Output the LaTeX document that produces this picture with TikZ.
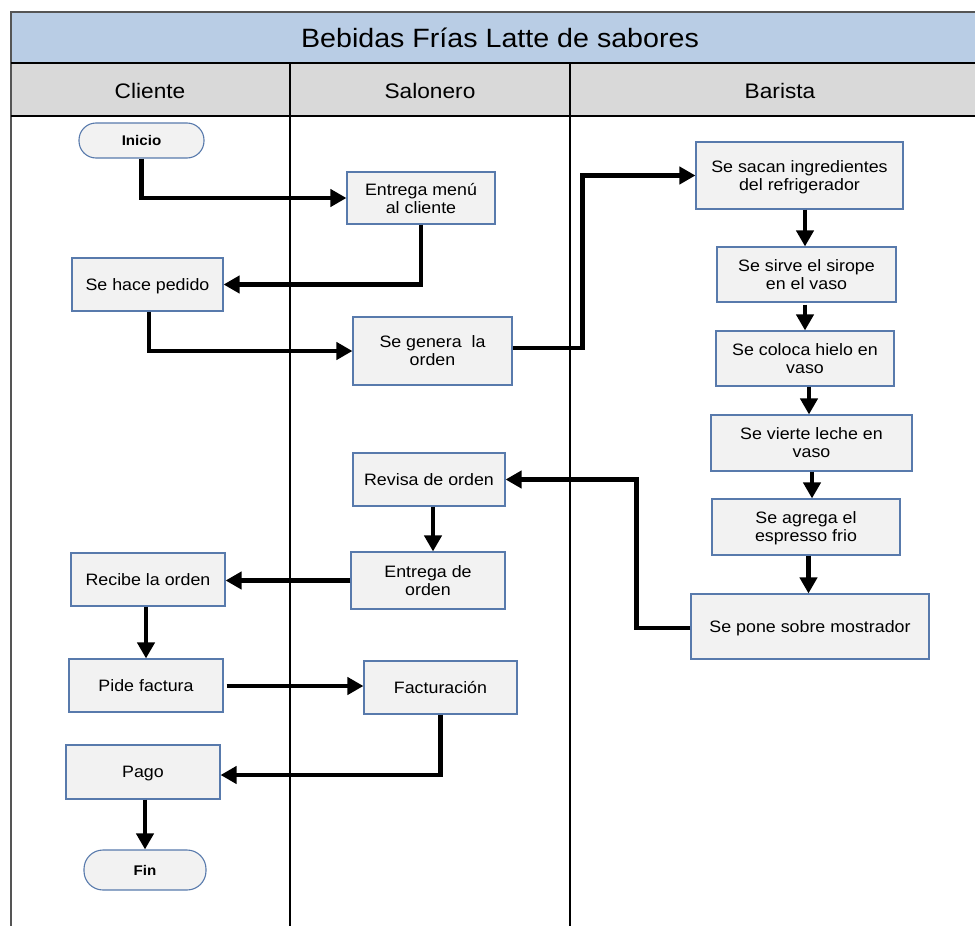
\documentclass[tikz,border=0pt]{standalone}
\usepackage{fontspec}
\setmainfont[FakeStretch=1.08]{Liberation Sans}
\usetikzlibrary{arrows.meta}
\definecolor{titlefill}{RGB}{185,205,229}
\definecolor{headfill}{RGB}{217,217,217}
\definecolor{boxfill}{RGB}{242,242,242}
\definecolor{boxline}{RGB}{88,122,172}
\definecolor{frameline}{RGB}{85,85,85}

\begin{document}
\begin{tikzpicture}[x=1pt,y=-1pt,
  stepbox/.style={draw=boxline, line width=1.1pt, fill=boxfill, rectangle,
    inner sep=0pt, align=center, text depth=0pt, font=\fontsize{16.5}{18}\selectfont},
  termbox/.style={draw=boxline, line width=1.1pt, fill=boxfill, rectangle,
    rounded corners=17pt, inner sep=0pt, text depth=0pt, font=\bfseries\fontsize{14}{16}\selectfont},
  conn/.style={line width=4.5pt, line join=miter, -{Triangle[length=16pt,width=17pt]}},
  lane/.style={line width=1.8pt, black},
  border/.style={line width=1.4pt, frameline},
  headtext/.style={inner sep=0pt, font=\fontsize{21}{24}\selectfont}
]
\useasboundingbox (0,0) rectangle (975,926);

% pool header bands
\fill[titlefill] (11,12) rectangle (975,63);
\fill[headfill] (11,63) rectangle (975,116);
\draw[border] (975,12) -- (11,12) -- (11,926);
\draw[lane] (11,63) -- (975,63);
\draw[lane] (11,116) -- (975,116);
\draw[lane] (290,63) -- (290,926);
\draw[lane] (570,63) -- (570,926);

\node[inner sep=0pt, font=\fontsize{26.5}{30}\selectfont] (title) at (500,38) {Bebidas Frías Latte de sabores};
\node[headtext] (hcliente) at (150,91) {Cliente};
\node[headtext] (hsalonero) at (430,91) {Salonero};
\node[headtext] (hbarista) at (780,91) {Barista};

% Cliente lane
\node[termbox, minimum width=125pt, minimum height=35pt] (inicio) at (141.5,140.5) {Inicio};
\node[stepbox, minimum width=151pt, minimum height=53pt] (pedido) at (147.5,284.5) {Se hace pedido};
\node[stepbox, minimum width=154pt, minimum height=53pt] (recibe) at (148,579.5) {Recibe la orden};
\node[stepbox, minimum width=154pt, minimum height=53pt] (pide) at (146,685.5) {Pide factura};
\node[stepbox, minimum width=154pt, minimum height=54pt] (pago) at (143,772) {Pago};
\node[termbox, rounded corners=19pt, minimum width=122pt, minimum height=40pt] (fin) at (145,870) {Fin};

% Salonero lane
\node[stepbox, minimum width=148pt, minimum height=52pt] (menu) at (421,198) {Entrega menú\\al cliente};
\node[stepbox, minimum width=159pt, minimum height=68pt] (genera) at (432.5,351) {Se genera\ \ la\\orden};
\node[stepbox, minimum width=152pt, minimum height=53pt] (revisa) at (429,479.5) {Revisa de orden};
\node[stepbox, minimum width=154pt, minimum height=57pt] (entrega) at (428,580.5) {Entrega de\\orden};
\node[stepbox, minimum width=153pt, minimum height=53pt] (factura) at (440.5,687.5) {Facturación};

% Barista lane
\node[stepbox, minimum width=207pt, minimum height=67pt] (sacan) at (799.5,175.5) {Se sacan ingredientes\\del refrigerador};
\node[stepbox, minimum width=179pt, minimum height=55pt] (sirve) at (806.5,274.5) {Se sirve el sirope\\en el vaso};
\node[stepbox, minimum width=178pt, minimum height=55pt] (coloca) at (805,358.5) {Se coloca hielo en\\vaso};
\node[stepbox, minimum width=201pt, minimum height=56pt] (vierte) at (811.5,443) {Se vierte leche en\\vaso};
\node[stepbox, minimum width=188pt, minimum height=56pt] (agrega) at (806,527) {Se agrega el\\espresso frio};
\node[stepbox, minimum width=238pt, minimum height=65pt] (pone) at (810,626.5) {Se pone sobre mostrador};

% flow
\draw[conn] (inicio.south) |- (menu.west);
\draw[conn] (menu.south) |- (pedido.east);
\draw[conn] ([xshift=1.5pt]pedido.south) |- (genera.west);
\draw[conn] ([yshift=3pt]genera.east) -- ++(70,0) |- (sacan.west);
\draw[conn] ([xshift=-1.5pt]sirve.north |- sacan.south) -- ([xshift=-1.5pt]sirve.north);
\draw[conn] ([yshift=-2pt]coloca.north |- sirve.south) -- (coloca.north);
\draw[conn] ([xshift=4pt]coloca.south) -- ([xshift=4pt]coloca.south |- vierte.north);
\draw[conn] ([xshift=6pt]agrega.north |- vierte.south) -- ([xshift=6pt]agrega.north);
\draw[conn] ([xshift=2.5pt]agrega.south) -- ([xshift=2.5pt]agrega.south |- pone.north);
\draw[conn] ([yshift=-1.5pt]pone.west) -- ++(-54,0) |- (revisa.east);
\draw[conn] ([xshift=4pt]revisa.south) -- ([xshift=4pt]revisa.south |- entrega.north);
\draw[conn] (entrega.west) -- (entrega.west -| recibe.east);
\draw[conn] ([xshift=-2pt]recibe.south) -- ([xshift=-2pt]recibe.south |- pide.north);
\draw[conn] ([xshift=3pt,yshift=-0.5pt]pide.east) -- ([yshift=-0.5pt]pide.east -| factura.west);
\draw[conn] (factura.south) |- ([yshift=-3pt]pago.east);
\draw[conn] (pago.south -| fin.north) -- (fin.north);
\end{tikzpicture}
\end{document}
